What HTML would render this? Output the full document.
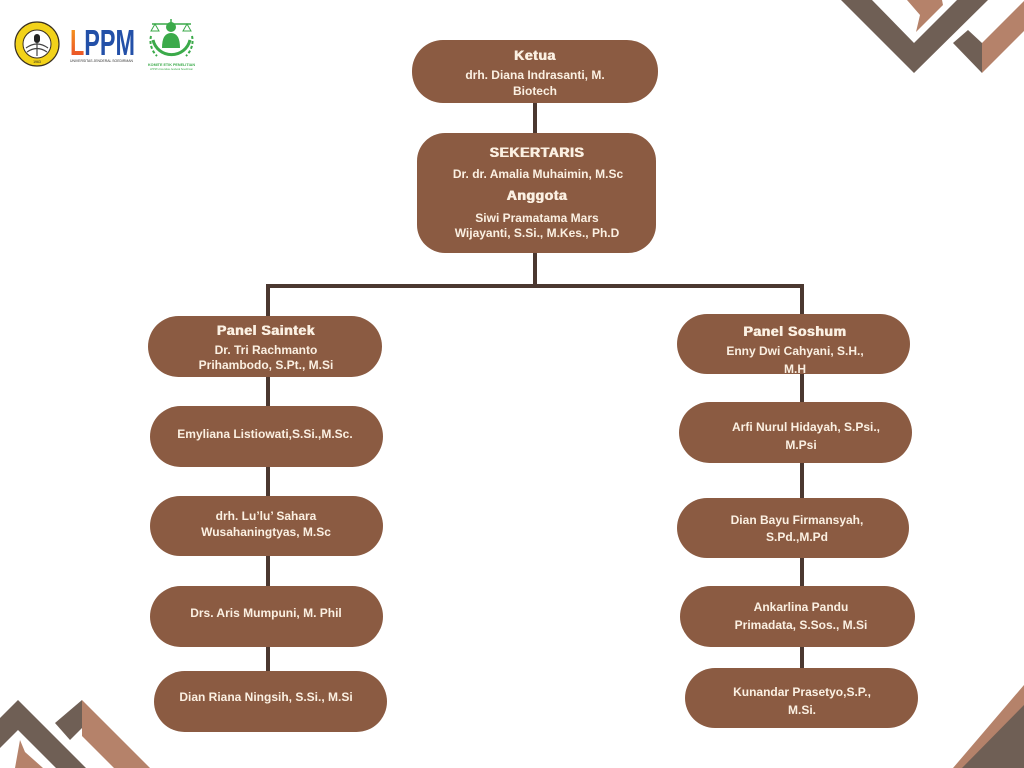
<!DOCTYPE html>
<html>
<head>
<meta charset="utf-8">
<style>
  html,body{margin:0;padding:0;}
  body{width:1024px;height:768px;position:relative;overflow:hidden;background:#ffffff;font-family:"Liberation Sans",Arial,sans-serif;}
  .box{position:absolute;background:#8B5B42;border-radius:31px;}
  .ln{position:absolute;background:#4B3830;}
  .t{position:absolute;width:320px;text-align:center;color:#FBF0E2;font-weight:bold;font-size:12px;line-height:16px;height:16px;white-space:nowrap;}
  .h{font-size:14px;letter-spacing:0.55px;text-shadow:0.5px 0 0 #FBF0E2,-0.3px 0 0 #FBF0E2;}
  svg{position:absolute;left:0;top:0;}
</style>
</head>
<body>

<!-- decorations -->
<svg width="1024" height="768" viewBox="0 0 1024 768">
  <!-- top right -->
  <polygon points="907,0 942,0 943,5 916,32 920,15" fill="#B5826A"/>
  <polygon points="841,0 914,73 988,0 957,0 914,43 872,0" fill="#6F5F55"/>
  <polygon points="968,30 982,43 982,73 953,43" fill="#6F5F55"/>
  <polygon points="982,43 1024,1 1024,31 982,73" fill="#B5826A"/>
  <!-- bottom left -->
  <polygon points="20,740 25,752 43,768 15,768" fill="#B5826A"/>
  <polygon points="0,718 18,700 86,768 56,768 18,730 0,748" fill="#6F5F55"/>
  <polygon points="82,700 55,723 70,740 82,728" fill="#6F5F55"/>
  <polygon points="82,700 150,768 114,768 82,736" fill="#B5826A"/>
  <!-- bottom right -->
  <polygon points="1024,685 953,768 1024,768" fill="#B5826A"/>
  <polygon points="1024,705 962,768 1024,768" fill="#6F5F55"/>

  <!-- UNSOED logo -->
  <circle cx="37" cy="44" r="22" fill="#F2D21A" stroke="#3a3020" stroke-width="1.2"/>
  <circle cx="37" cy="44" r="14" fill="#ffffff" stroke="#3a3020" stroke-width="1"/>
  <rect x="34" y="34" width="6" height="9" rx="3" fill="#222"/>
  <path d="M26,48 Q37,40 48,48 M27,52 Q37,45 47,52" stroke="#444" stroke-width="1.2" fill="none"/>
  <line x1="37" y1="43" x2="37" y2="56" stroke="#444" stroke-width="1.2"/>
  <text x="37" y="63" font-size="3.5" text-anchor="middle" fill="#222" font-family="Liberation Sans">1963</text>

  <!-- LPPM logo -->
  <defs>
    <linearGradient id="og" x1="0" y1="0" x2="0" y2="1">
      <stop offset="0" stop-color="#F7A21B"/>
      <stop offset="1" stop-color="#E8432A"/>
    </linearGradient>
  </defs>
  <text x="70" y="55" font-size="36" font-weight="bold" font-family="Liberation Sans" textLength="65" lengthAdjust="spacingAndGlyphs"><tspan fill="url(#og)">L</tspan><tspan fill="#2350A8">PPM</tspan></text>
  <text x="70" y="62" font-size="3.2" fill="#333" font-family="Liberation Sans" textLength="63" lengthAdjust="spacingAndGlyphs">UNIVERSITAS JENDERAL SOEDIRMAN</text>

  <!-- Komite Etik logo -->
  <path d="M153,40 A19,19 0 0 0 190,40" stroke="#3BAA4A" stroke-width="3" fill="none"/>
  <path d="M151,36 A21,21 0 0 0 157,56" stroke="#3BAA4A" stroke-width="2" fill="none" stroke-dasharray="3,2"/>
  <path d="M192,36 A21,21 0 0 1 186,56" stroke="#3BAA4A" stroke-width="2" fill="none" stroke-dasharray="3,2"/>
  <circle cx="171" cy="27" r="5" fill="#3BAA4A"/>
  <path d="M162,48 Q162,33 171,33 Q180,33 180,48 Z" fill="#3BAA4A"/>
  <line x1="152" y1="24" x2="191" y2="24" stroke="#3BAA4A" stroke-width="1.5"/>
  <line x1="171" y1="19" x2="171" y2="24" stroke="#3BAA4A" stroke-width="1.5"/>
  <path d="M151,31 L155,24 L159,31 Z M183,31 L187,24 L191,31 Z" fill="none" stroke="#3BAA4A" stroke-width="1"/>
  <text x="148" y="66" font-size="3.3" font-weight="bold" fill="#3BAA4A" font-family="Liberation Sans" textLength="47" lengthAdjust="spacingAndGlyphs">KOMITE ETIK PENELITIAN</text>
  <text x="150" y="70" font-size="2.4" fill="#3BAA4A" font-family="Liberation Sans" textLength="43" lengthAdjust="spacingAndGlyphs">LPPM Universitas Jenderal Soedirman</text>
</svg>

<!-- connectors -->
<div class="ln" style="left:533px;top:100px;width:4px;height:36px;"></div>
<div class="ln" style="left:533px;top:250px;width:4px;height:38px;"></div>
<div class="ln" style="left:266px;top:284px;width:538px;height:4px;"></div>
<div class="ln" style="left:266px;top:284px;width:4px;height:390px;"></div>
<div class="ln" style="left:800px;top:284px;width:4px;height:388px;"></div>

<!-- Ketua -->
<div class="box" style="left:412px;top:40px;width:246px;height:63px;"></div>
<div class="t h" style="left:375px;top:47px;">Ketua</div>
<div class="t" style="left:375px;top:67px;">drh. Diana Indrasanti, M.</div>
<div class="t" style="left:375px;top:83px;">Biotech</div>

<!-- Sekertaris -->
<div class="box" style="left:417px;top:133px;width:239px;height:120px;border-radius:28px;"></div>
<div class="t h" style="left:377px;top:144px;">SEKERTARIS</div>
<div class="t" style="left:378px;top:166px;">Dr. dr. Amalia Muhaimin, M.Sc</div>
<div class="t h" style="left:377px;top:187px;">Anggota</div>
<div class="t" style="left:377px;top:210px;">Siwi Pramatama Mars</div>
<div class="t" style="left:377px;top:225px;">Wijayanti, S.Si., M.Kes., Ph.D</div>

<!-- Left column -->
<div class="box" style="left:148px;top:316px;width:234px;height:61px;"></div>
<div class="t h" style="left:106px;top:322px;">Panel Saintek</div>
<div class="t" style="left:106px;top:342px;">Dr. Tri Rachmanto</div>
<div class="t" style="left:106px;top:357px;">Prihambodo, S.Pt., M.Si</div>

<div class="box" style="left:150px;top:406px;width:233px;height:61px;"></div>
<div class="t" style="left:105px;top:426px;">Emyliana Listiowati,S.Si.,M.Sc.</div>

<div class="box" style="left:150px;top:496px;width:233px;height:60px;"></div>
<div class="t" style="left:106px;top:508px;">drh. Lu’lu’ Sahara</div>
<div class="t" style="left:106px;top:524px;">Wusahaningtyas, M.Sc</div>

<div class="box" style="left:150px;top:586px;width:233px;height:61px;"></div>
<div class="t" style="left:106px;top:605px;">Drs. Aris Mumpuni, M. Phil</div>

<div class="box" style="left:154px;top:671px;width:233px;height:61px;"></div>
<div class="t" style="left:106px;top:689px;">Dian Riana Ningsih, S.Si., M.Si</div>

<!-- Right column -->
<div class="box" style="left:677px;top:314px;width:233px;height:60px;"></div>
<div class="t h" style="left:635px;top:323px;">Panel Soshum</div>
<div class="t" style="left:635px;top:343px;">Enny Dwi Cahyani, S.H.,</div>
<div class="t" style="left:635px;top:361px;">M.H</div>

<div class="box" style="left:679px;top:402px;width:233px;height:61px;"></div>
<div class="t" style="left:646px;top:419px;">Arfi Nurul Hidayah, S.Psi.,</div>
<div class="t" style="left:641px;top:437px;">M.Psi</div>

<div class="box" style="left:677px;top:498px;width:232px;height:60px;"></div>
<div class="t" style="left:637px;top:512px;">Dian Bayu Firmansyah,</div>
<div class="t" style="left:637px;top:529px;">S.Pd.,M.Pd</div>

<div class="box" style="left:680px;top:586px;width:235px;height:61px;"></div>
<div class="t" style="left:641px;top:599px;">Ankarlina Pandu</div>
<div class="t" style="left:641px;top:617px;">Primadata, S.Sos., M.Si</div>

<div class="box" style="left:685px;top:668px;width:233px;height:60px;"></div>
<div class="t" style="left:642px;top:684px;">Kunandar Prasetyo,S.P.,</div>
<div class="t" style="left:642px;top:702px;">M.Si.</div>

</body>
</html>
